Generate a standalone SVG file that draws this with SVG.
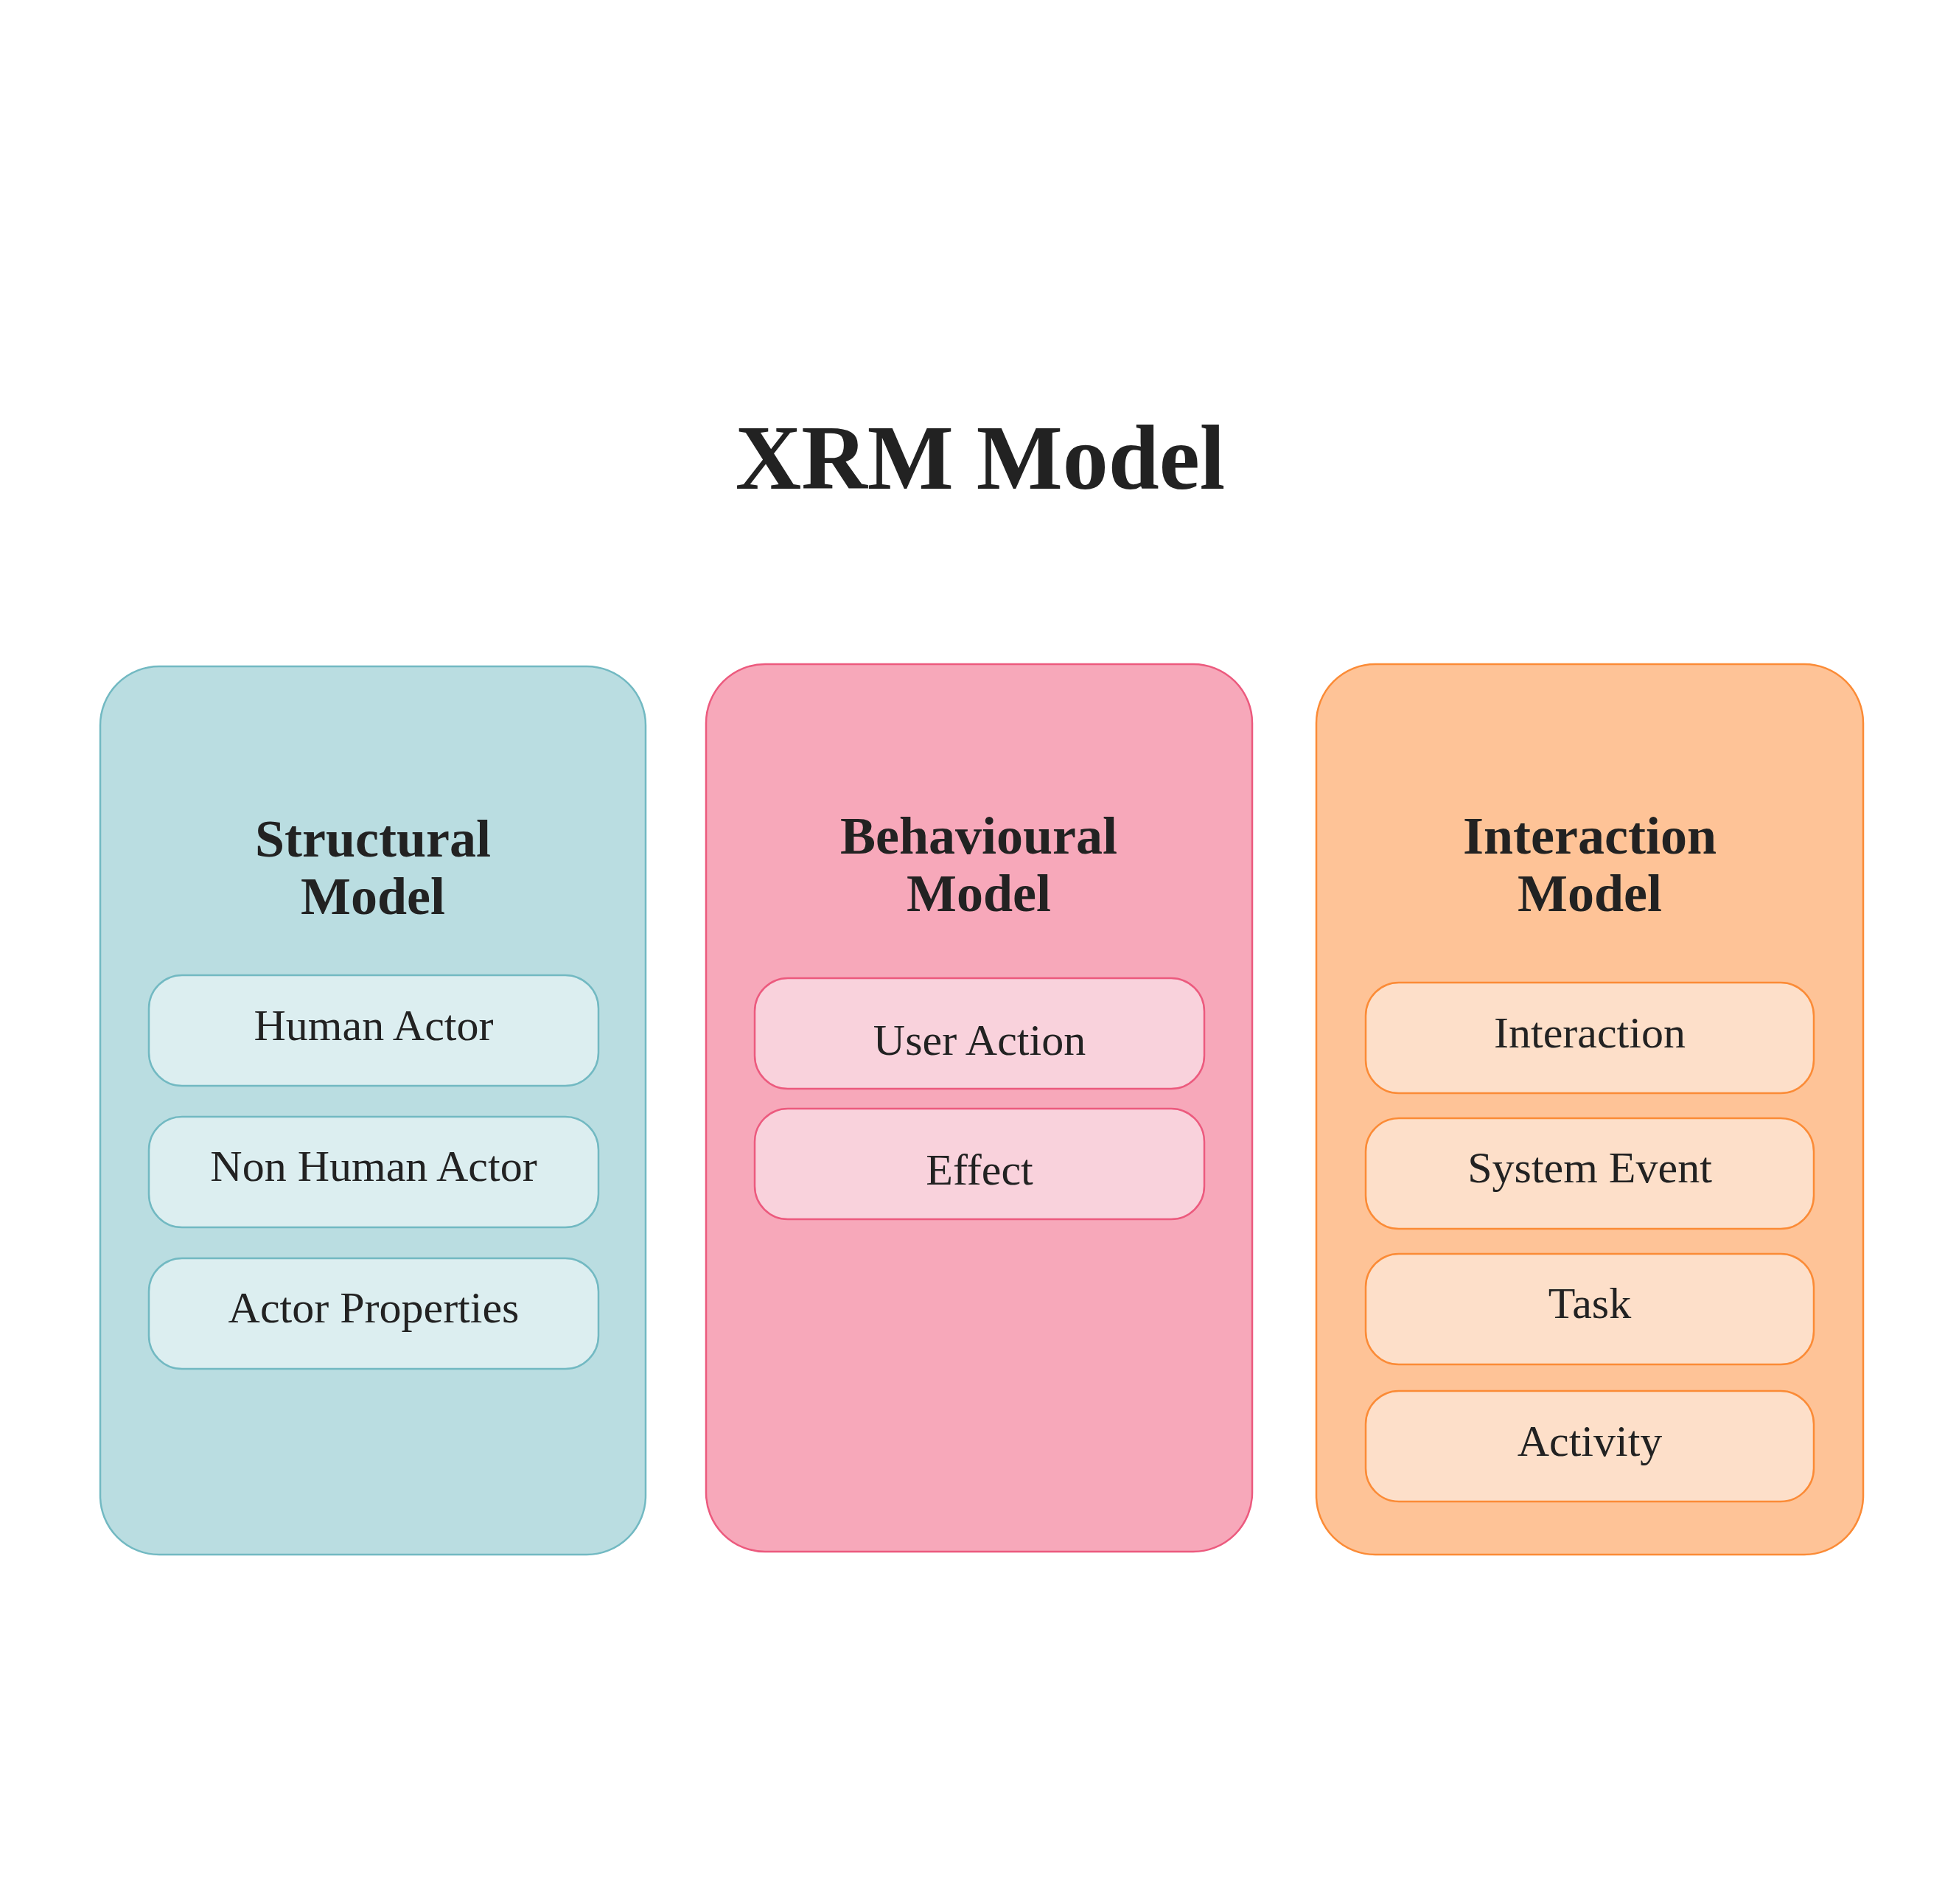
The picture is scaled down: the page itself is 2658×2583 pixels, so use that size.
<svg xmlns="http://www.w3.org/2000/svg" width="2658" height="2583" viewBox="0 0 2658 2583">
<style>
text{font-family:"Liberation Serif","Times New Roman",serif;fill:#222222;text-anchor:middle}
.title{font-size:124px;font-weight:bold}
.head{font-size:72px;font-weight:bold}
.item{font-size:60px}
.s-out{fill:#BADDE1;stroke:#72B9C2;stroke-width:2.5}
.s-in{fill:#DCEEF0;stroke:#72B9C2;stroke-width:2.5}
.b-out{fill:#F7A8BA;stroke:#EC5A7E;stroke-width:2.5}
.b-in{fill:#F9D2DC;stroke:#EC5A7E;stroke-width:2.5}
.i-out{fill:#FEC397;stroke:#FB8B36;stroke-width:2.5}
.i-in{fill:#FDDFC9;stroke:#FB8B36;stroke-width:2.5}
</style>
<rect width="2658" height="2583" fill="#FFFFFF"/>
<g id="title"><text class="title" x="1330" y="663">XRM Model</text></g>
<g id="structural">
<rect class="s-out" x="136" y="904" width="740" height="1205" rx="80" ry="80"/>
<text class="head" x="506" y="1162">Structural</text>
<text class="head" x="506" y="1240">Model</text>
</g>
<g id="human-actor"><rect class="s-in" x="202" y="1323" width="610" height="150" rx="45" ry="45"/><text class="item" x="507" y="1411">Human Actor</text></g>
<g id="non-human-actor"><rect class="s-in" x="202" y="1515" width="610" height="150" rx="45" ry="45"/><text class="item" x="507" y="1602">Non Human Actor</text></g>
<g id="actor-properties"><rect class="s-in" x="202" y="1707" width="610" height="150" rx="45" ry="45"/><text class="item" x="507" y="1794">Actor Properties</text></g>
<g id="behavioural">
<rect class="b-out" x="958" y="901" width="741" height="1204" rx="80" ry="80"/>
<text class="head" x="1328" y="1158">Behavioural</text>
<text class="head" x="1328" y="1236">Model</text>
</g>
<g id="user-action"><rect class="b-in" x="1024" y="1327" width="610" height="150" rx="45" ry="45"/><text class="item" x="1329" y="1431">User Action</text></g>
<g id="effect"><rect class="b-in" x="1024" y="1504" width="610" height="150" rx="45" ry="45"/><text class="item" x="1329" y="1607">Effect</text></g>
<g id="interaction-model">
<rect class="i-out" x="1786" y="901" width="742" height="1208" rx="80" ry="80"/>
<text class="head" x="2157" y="1158">Interaction</text>
<text class="head" x="2157" y="1236">Model</text>
</g>
<g id="interaction"><rect class="i-in" x="1853" y="1333" width="608" height="150" rx="45" ry="45"/><text class="item" x="2157" y="1421">Interaction</text></g>
<g id="system-event"><rect class="i-in" x="1853" y="1517" width="608" height="150" rx="45" ry="45"/><text class="item" x="2157" y="1604">System Event</text></g>
<g id="task"><rect class="i-in" x="1853" y="1701" width="608" height="150" rx="45" ry="45"/><text class="item" x="2157" y="1788">Task</text></g>
<g id="activity"><rect class="i-in" x="1853" y="1887" width="608" height="150" rx="45" ry="45"/><text class="item" x="2157" y="1975">Activity</text></g>
<g id="connectors"></g>
</svg>
